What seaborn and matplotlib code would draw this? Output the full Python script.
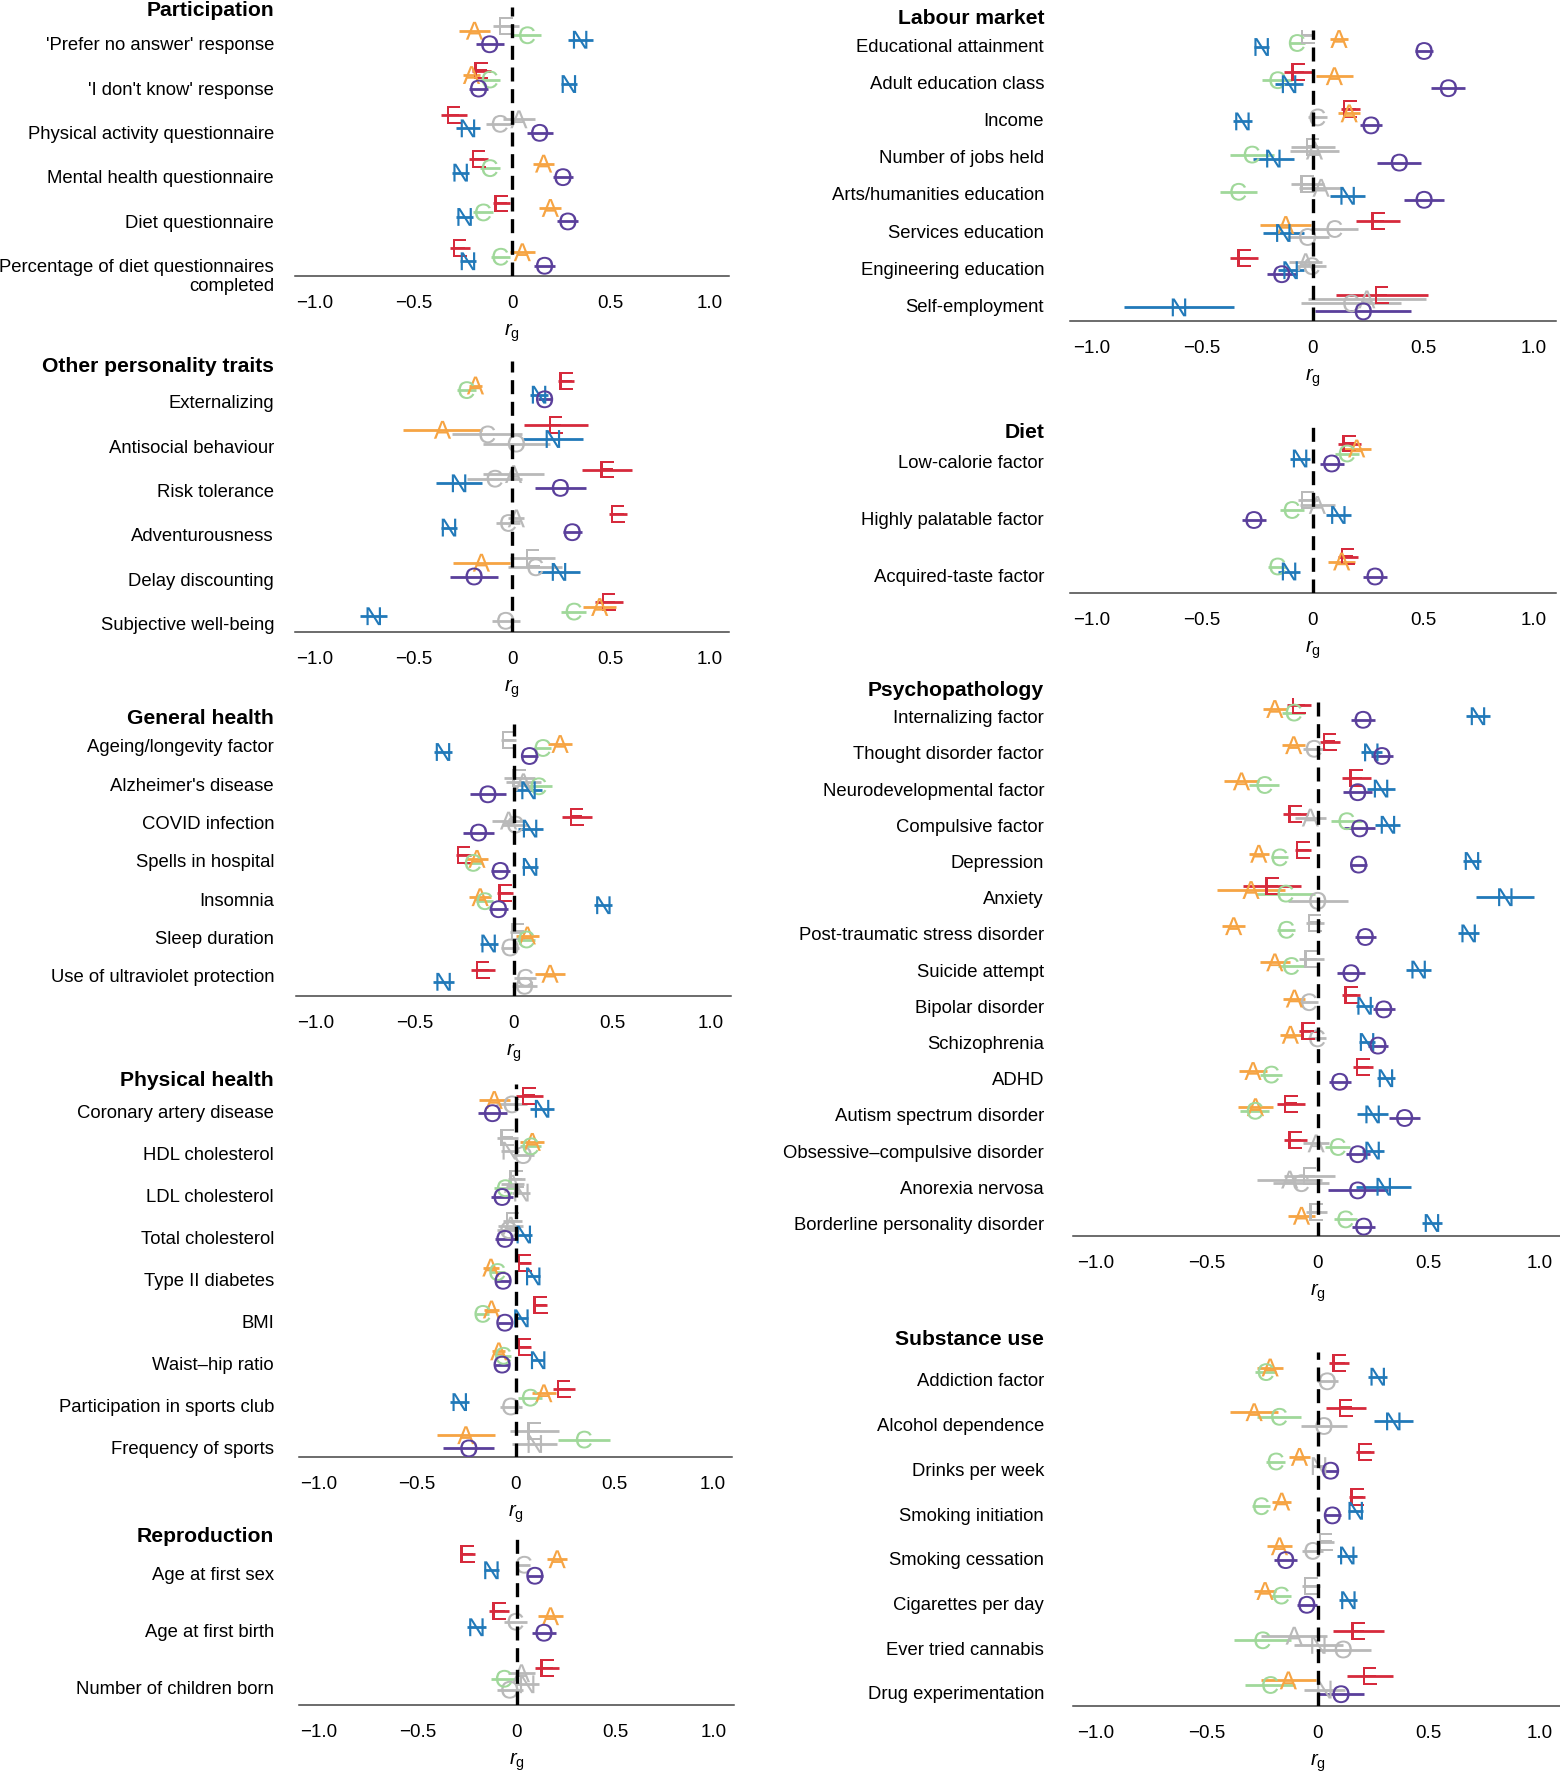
import numpy as np
import pandas as pd
import matplotlib
matplotlib.use('Agg')
import matplotlib.pyplot as plt
import matplotlib.transforms as mtransforms
import seaborn as sns

# Genetic correlations (r_g) of the five personality factors with other traits
FACTORS = ['E', 'A', 'C', 'N', 'O']
COLORS = {'E': '#d62a3c', 'A': '#f6a443', 'C': '#a0d89a', 'N': '#2179b9', 'O': '#5a3f9b'}
NS_COLOR = '#b9b9b9'

panel_names = ['Participation', 'Other personality traits', 'General health',
               'Physical health', 'Reproduction', 'Labour market', 'Diet',
               'Psychopathology', 'Substance use']

participation = ["'Prefer no answer' response", "'I don't know' response",
                 'Physical activity questionnaire', 'Mental health questionnaire',
                 'Diet questionnaire', 'Percentage of diet questionnaires\ncompleted']
other_traits = ['Externalizing', 'Antisocial behaviour', 'Risk tolerance',
                'Adventurousness', 'Delay discounting', 'Subjective well-being']
general_health = ['Ageing/longevity factor', "Alzheimer's disease", 'COVID infection',
                  'Spells in hospital', 'Insomnia', 'Sleep duration',
                  'Use of ultraviolet protection']
physical_health = ['Coronary artery disease', 'HDL cholesterol', 'LDL cholesterol',
                   'Total cholesterol', 'Type II diabetes', 'BMI', 'Waist\u2013hip ratio',
                   'Participation in sports club', 'Frequency of sports']
reproduction = ['Age at first sex', 'Age at first birth', 'Number of children born']
labour_market = ['Educational attainment', 'Adult education class', 'Income',
                 'Number of jobs held', 'Arts/humanities education',
                 'Services education', 'Engineering education', 'Self-employment']
diet = ['Low-calorie factor', 'Highly palatable factor', 'Acquired-taste factor']
psychopathology = ['Internalizing factor', 'Thought disorder factor',
                   'Neurodevelopmental factor', 'Compulsive factor', 'Depression',
                   'Anxiety', 'Post-traumatic stress disorder', 'Suicide attempt',
                   'Bipolar disorder', 'Schizophrenia', 'ADHD', 'Autism spectrum disorder',
                   'Obsessive\u2013compulsive disorder', 'Anorexia nervosa',
                   'Borderline personality disorder']
substance_use = ['Addiction factor', 'Alcohol dependence', 'Drinks per week',
                 'Smoking initiation', 'Smoking cessation', 'Cigarettes per day',
                 'Ever tried cannabis', 'Drug experimentation']
panel_traits = [participation, other_traits, general_health, physical_health,
                reproduction, labour_market, diet, psychopathology, substance_use]

# estimates, CI half-widths, significance (1 = coloured, 0 = grey)
E_rg = [-0.03, -0.155, -0.295, -0.169, -0.054, -0.265,
        0.275, 0.221, 0.482, 0.536, 0.106, 0.49,
        -0.025, 0.03, 0.32, -0.253, -0.042, 0.022, -0.155,
        0.069, -0.042, 0.005, -0.015, 0.047, 0.127, 0.047, 0.245, 0.095,
        -0.248, -0.088, 0.155,
        -0.023, -0.065, 0.169, 0.0, -0.024, 0.297, -0.309, 0.312,
        0.165, -0.023, 0.158,
        -0.085, 0.054, 0.174, -0.1, -0.066, -0.205, -0.013, -0.028, 0.151, -0.043,
        0.204, -0.12, -0.1, -0.036, -0.007,
        0.097, 0.127, 0.213, 0.178, 0.037, -0.03, 0.183, 0.235]
E_ci = [0.065, 0.05, 0.065, 0.048, 0.042, 0.05,
        0.04, 0.162, 0.126, 0.046, 0.114, 0.07,
        0.04, 0.08, 0.075, 0.04, 0.04, 0.038, 0.059,
        0.069, 0.053, 0.042, 0.047, 0.032, 0.033, 0.031, 0.057, 0.124,
        0.04, 0.052, 0.062,
        0.02, 0.063, 0.043, 0.1, 0.074, 0.1, 0.063, 0.208,
        0.052, 0.045, 0.045,
        0.054, 0.045, 0.066, 0.055, 0.036, 0.13, 0.041, 0.055, 0.041, 0.039,
        0.047, 0.062, 0.052, 0.116, 0.047,
        0.046, 0.091, 0.041, 0.037, 0.037, 0.042, 0.113, 0.103]
E_sig = [0, 1, 1, 1, 1, 1,
         1, 1, 1, 1, 0, 1,
         0, 0, 1, 1, 1, 0, 1,
         1, 0, 0, 0, 1, 1, 1, 1, 0,
         1, 1, 1,
         0, 1, 1, 0, 0, 1, 1, 1,
         1, 0, 1,
         1, 1, 1, 1, 1, 1, 0, 0, 1, 1, 1, 1, 1, 0, 0,
         1, 1, 1, 1, 0, 0, 1, 1]

A_rg = [-0.19, -0.205, 0.035, 0.16, 0.194, 0.052,
        -0.185, -0.352, 0.008, 0.022, -0.155, 0.444,
        0.236, 0.05, -0.025, -0.185, -0.169, 0.07, 0.185,
        -0.108, 0.085, -0.015, -0.024, -0.125, -0.122, -0.085, 0.144, -0.252,
        0.206, 0.172, 0.025,
        0.119, 0.098, 0.165, 0.008, 0.038, -0.122, -0.032, 0.245,
        0.199, 0.021, 0.131,
        -0.193, -0.108, -0.343, -0.033, -0.265, -0.3, -0.378, -0.193, -0.105, -0.123,
        -0.291, -0.28, -0.007, -0.126, -0.073,
        -0.214, -0.286, -0.082, -0.162, -0.172, -0.237, -0.106, -0.132]
A_ci = [0.08, 0.045, 0.082, 0.053, 0.055, 0.063,
        0.035, 0.2, 0.154, 0.04, 0.143, 0.082,
        0.06, 0.09, 0.085, 0.057, 0.057, 0.057, 0.074,
        0.078, 0.062, 0.06, 0.063, 0.04, 0.038, 0.034, 0.06, 0.148,
        0.05, 0.065, 0.068,
        0.04, 0.083, 0.05, 0.11, 0.098, 0.115, 0.075, 0.268,
        0.066, 0.08, 0.06,
        0.055, 0.051, 0.079, 0.07, 0.045, 0.154, 0.052, 0.067, 0.049, 0.048,
        0.061, 0.079, 0.058, 0.146, 0.06,
        0.058, 0.109, 0.047, 0.044, 0.056, 0.049, 0.15, 0.124]
A_sig = [1, 1, 0, 1, 1, 1,
         1, 1, 0, 0, 1, 1,
         1, 0, 0, 1, 1, 1, 1,
         1, 1, 0, 0, 1, 1, 1, 1, 1,
         1, 1, 0,
         1, 1, 1, 0, 0, 1, 0, 0,
         1, 0, 1,
         1, 1, 1, 0, 1, 1, 1, 1, 1, 1, 1, 1, 0, 0, 1,
         1, 1, 1, 1, 1, 1, 0, 1]

C_rg = [0.076, -0.113, -0.062, -0.113, -0.147, -0.059,
        -0.231, -0.125, -0.088, -0.02, 0.118, 0.312,
        0.147, 0.126, 0.008, -0.206, -0.147, 0.064, 0.059,
        -0.02, 0.076, -0.054, -0.037, -0.093, -0.168, -0.063, 0.073, 0.347,
        0.037, -0.005, -0.064,
        -0.072, -0.16, 0.021, -0.276, -0.337, 0.098, -0.005, 0.174,
        0.154, -0.095, -0.16,
        -0.108, -0.018, -0.24, 0.129, -0.172, -0.145, -0.142, -0.12, -0.04, -0.003,
        -0.21, -0.283, 0.09, -0.075, 0.124,
        -0.234, -0.174, -0.189, -0.255, -0.024, -0.165, -0.249, -0.214]
C_ci = [0.07, 0.05, 0.068, 0.05, 0.052, 0.048,
        0.05, 0.177, 0.14, 0.06, 0.137, 0.065,
        0.045, 0.07, 0.066, 0.046, 0.042, 0.046, 0.055,
        0.078, 0.055, 0.057, 0.055, 0.038, 0.035, 0.04, 0.06, 0.133,
        0.03, 0.057, 0.066,
        0.035, 0.068, 0.043, 0.1, 0.083, 0.107, 0.067, 0.225,
        0.055, 0.054, 0.04,
        0.051, 0.049, 0.067, 0.069, 0.037, 0.132, 0.041, 0.058, 0.043, 0.04,
        0.049, 0.065, 0.055, 0.128, 0.051,
        0.047, 0.097, 0.044, 0.04, 0.047, 0.047, 0.128, 0.114]
C_sig = [1, 1, 0, 1, 1, 1,
         1, 0, 0, 0, 0, 1,
         1, 1, 0, 1, 1, 1, 0,
         0, 1, 1, 0, 1, 1, 1, 1, 1,
         0, 0, 1,
         1, 1, 0, 1, 1, 0, 0, 0,
         1, 1, 1,
         1, 0, 1, 1, 1, 1, 1, 1, 0, 0, 1, 1, 1, 0, 1,
         1, 1, 1, 1, 0, 1, 1, 1]

N_rg = [0.345, 0.288, -0.223, -0.26, -0.24, -0.223,
        0.137, 0.207, -0.268, -0.319, 0.238, -0.70,
        -0.357, 0.076, 0.084, 0.084, 0.455, -0.126, -0.354,
        0.135, -0.029, 0.03, 0.042, 0.09, 0.03, 0.115, -0.283, 0.098,
        -0.127, -0.203, 0.054,
        -0.231, -0.107, -0.318, -0.178, 0.158, -0.133, -0.1, -0.605,
        -0.057, 0.116, -0.107,
        0.721, 0.241, 0.285, 0.316, 0.694, 0.844, 0.679, 0.454, 0.211, 0.222,
        0.307, 0.247, 0.247, 0.297, 0.514,
        0.27, 0.34, 0.006, 0.171, 0.133, 0.138, 0.003, 0.03]
N_ci = [0.063, 0.04, 0.06, 0.042, 0.044, 0.042,
        0.046, 0.153, 0.116, 0.04, 0.105, 0.068,
        0.045, 0.068, 0.063, 0.04, 0.046, 0.046, 0.054,
        0.062, 0.045, 0.046, 0.042, 0.034, 0.034, 0.032, 0.049, 0.114,
        0.04, 0.05, 0.059,
        0.033, 0.065, 0.042, 0.093, 0.08, 0.092, 0.059, 0.247,
        0.047, 0.057, 0.049,
        0.054, 0.046, 0.061, 0.056, 0.041, 0.131, 0.047, 0.056, 0.04, 0.037,
        0.041, 0.07, 0.049, 0.123, 0.045,
        0.043, 0.088, 0.03, 0.034, 0.045, 0.04, 0.109, 0.092]
N_sig = [1, 1, 1, 1, 1, 1,
         1, 1, 1, 1, 1, 1,
         1, 1, 1, 1, 1, 1, 1,
         1, 0, 0, 1, 1, 1, 1, 1, 0,
         1, 1, 0,
         1, 1, 1, 1, 1, 1, 1, 1,
         1, 1, 1,
         1, 1, 1, 1, 1, 1, 1, 1, 1, 1, 1, 1, 1, 1, 1,
         1, 1, 0, 1, 1, 1, 0, 0]

O_rg = [-0.113, -0.169, 0.14, 0.258, 0.283, 0.165,
        0.165, 0.022, 0.245, 0.305, -0.192, -0.032,
        0.081, -0.13, -0.177, -0.067, -0.076, -0.017, 0.056,
        -0.117, 0.039, -0.068, -0.054, -0.063, -0.054, -0.068, -0.024, -0.237,
        0.093, 0.139, -0.034,
        0.504, 0.614, 0.264, 0.392, 0.504, -0.023, -0.14, 0.229,
        0.086, -0.266, 0.282,
        0.204, 0.289, 0.18, 0.189, 0.184, 0.0, 0.214, 0.15, 0.297, 0.271,
        0.099, 0.391, 0.18, 0.18, 0.207,
        0.043, 0.028, 0.058, 0.066, -0.144, -0.049, 0.115, 0.105]
O_ci = [0.07, 0.048, 0.066, 0.052, 0.053, 0.054,
        0.035, 0.17, 0.13, 0.047, 0.123, 0.07,
        0.045, 0.09, 0.079, 0.048, 0.048, 0.046, 0.062,
        0.074, 0.056, 0.054, 0.049, 0.036, 0.036, 0.036, 0.056, 0.13,
        0.042, 0.062, 0.066,
        0.042, 0.077, 0.049, 0.099, 0.091, 0.095, 0.068, 0.218,
        0.055, 0.054, 0.053,
        0.052, 0.05, 0.064, 0.069, 0.04, 0.135, 0.048, 0.061, 0.05, 0.044,
        0.049, 0.071, 0.054, 0.134, 0.052,
        0.047, 0.103, 0.034, 0.037, 0.052, 0.045, 0.123, 0.105]
O_sig = [1, 1, 1, 1, 1, 1,
         1, 0, 1, 1, 1, 0,
         1, 1, 1, 1, 1, 0, 0,
         1, 0, 1, 1, 1, 1, 1, 0, 1,
         1, 1, 0,
         1, 1, 1, 1, 1, 0, 1, 1,
         1, 1, 1,
         1, 1, 1, 1, 1, 0, 1, 1, 1, 1, 1, 1, 1, 1, 1,
         0, 0, 1, 1, 1, 1, 0, 1]

RG = {'E': E_rg, 'A': A_rg, 'C': C_rg, 'N': N_rg, 'O': O_rg}
CI = {'E': E_ci, 'A': A_ci, 'C': C_ci, 'N': N_ci, 'O': O_ci}
SIG = {'E': E_sig, 'A': A_sig, 'C': C_sig, 'N': N_sig, 'O': O_sig}

records = []
k = 0
for p, traits in enumerate(panel_traits):
    for i, t in enumerate(traits):
        for f in FACTORS:
            records.append(dict(panel=p, row=i, trait=t, factor=f, rg=RG[f][k],
                                ci=CI[f][k], sig=SIG[f][k]))
        k += 1
df = pd.DataFrame(records)
df['colour'] = [COLORS[f] if s else NS_COLOR for f, s in zip(df.factor, df.sig)]

# ---- layout (pixels of the 1560 x 1774 canvas) ----
W, H = 1560, 1774
# zero x, px per unit, first row, row spacing, top, bottom, marker step, title y, label shift
layout = [
    (512.0, 197.5, 43, 44.3, 8, 277, 4.5, 11, 1),
    (512.0, 197.5, 398, 44.3, 362, 633, 4.6, 367, 4),
    (513.5, 197.5, 755, 38.3, 725, 997, 4.0, 718, -9),
    (515.5, 197.0, 1112, 41.9, 1085, 1458, 4.4, 1081, 0),
    (516.5, 197.5, 1574, 57.0, 1538, 1706, 5.5, 1537, 0),
    (1312.7, 221.0, 50, 37.2, 31, 322, 4.0, 18, -5),
    (1312.7, 221.0, 462, 56.5, 428, 594, 5.0, 433, 0),
    (1317.7, 222.3, 719, 36.2, 699, 1237, 3.6, 690, -2.3),
    (1317.7, 222.3, 1380, 44.7, 1353, 1707, 4.6, 1340, 0),
]
offsets = {'E': -3.5, 'A': -2.5, 'C': -1.5, 'N': -0.5, 'O': 0.5}
markers = {f: r'$\mathsf{%s}$' % f for f in FACTORS}

sns.set_theme(style='white')
plt.rcParams['font.family'] = ['Liberation Sans', 'DejaVu Sans']
plt.rcParams['mathtext.fontset'] = 'custom'
plt.rcParams['mathtext.rm'] = 'Liberation Sans'
plt.rcParams['mathtext.it'] = 'Liberation Sans:italic'
plt.rcParams['mathtext.sf'] = 'Liberation Sans'
plt.rcParams['text.color'] = 'black'
plt.rcParams['axes.labelcolor'] = 'black'
plt.rcParams['xtick.labelcolor'] = 'black'
plt.rcParams['ytick.labelcolor'] = 'black'

fig = plt.figure(figsize=(W / 100, H / 100), dpi=100)
fig.patch.set_facecolor('white')

for p, (zero, unit, first, sp, top, bottom, step, ty, lshift) in enumerate(layout):
    x0 = zero - 1.1 * unit
    ax = fig.add_axes([x0 / W, 1 - bottom / H, 2.2 * unit / W, (bottom - top) / H])
    ax.set_facecolor('none')
    sub = df[df.panel == p].copy()
    sub['y'] = sub.row + sub.factor.map(offsets) * step / sp

    for sig_level, z in [(0, 1), (1, 2)]:
        part = sub[sub.sig == sig_level]
        if part.empty:
            continue
        ax.hlines(part.y, part.rg - part.ci, part.rg + part.ci, colors=part.colour,
                  lw=2.0, zorder=z)
        sns.scatterplot(data=part, x='rg', y='y', hue='colour',
                        palette={c: c for c in part.colour.unique()},
                        style='factor', markers=markers, s=165, linewidth=0,
                        legend=False, ax=ax, zorder=z + 2)

    ax.axvline(0, color='black', lw=2.4, ls=(0, (4.2, 2.3)), zorder=6)
    ax.set_xlim(-1.1, 1.1)
    ax.set_ylim((bottom - first) / sp, (top - first) / sp)

    traits = panel_traits[p]
    tx = 274 if zero < 800 else 1044
    ax.set_yticks(np.arange(len(traits)) + lshift / sp)
    ax.tick_params(axis='y', length=0, pad=(x0 - tx) / 1.389)
    labels = ax.set_yticklabels(traits, fontsize=13.3)
    for lab in labels:
        if '\n' in lab.get_text():
            lab.set_verticalalignment('top')
            lab.set_transform(mtransforms.offset_copy(lab.get_transform(), fig=fig,
                                                      y=5, units='points'))
    ax.set_xticks([-1, -0.5, 0, 0.5, 1])
    ax.set_xticklabels(['\u22121.0', '\u22120.5', '0', '0.5', '1.0'], fontsize=13.5)
    ax.tick_params(axis='x', length=5, width=1.1, color='#444444', pad=8)
    ax.set_xlabel(r'$r_{\mathrm{g}}$', fontsize=14.5, labelpad=7)
    ax.set_ylabel('')
    sns.despine(ax=ax, left=True)
    ax.spines['bottom'].set_color('#444444')
    ax.spines['bottom'].set_linewidth(1.1)

    fig.text(tx / W, 1 - ty / H, panel_names[p], ha='right', va='center',
             fontsize=15.2, fontweight='bold')

fig.savefig('out.png', dpi=100, facecolor='white')
